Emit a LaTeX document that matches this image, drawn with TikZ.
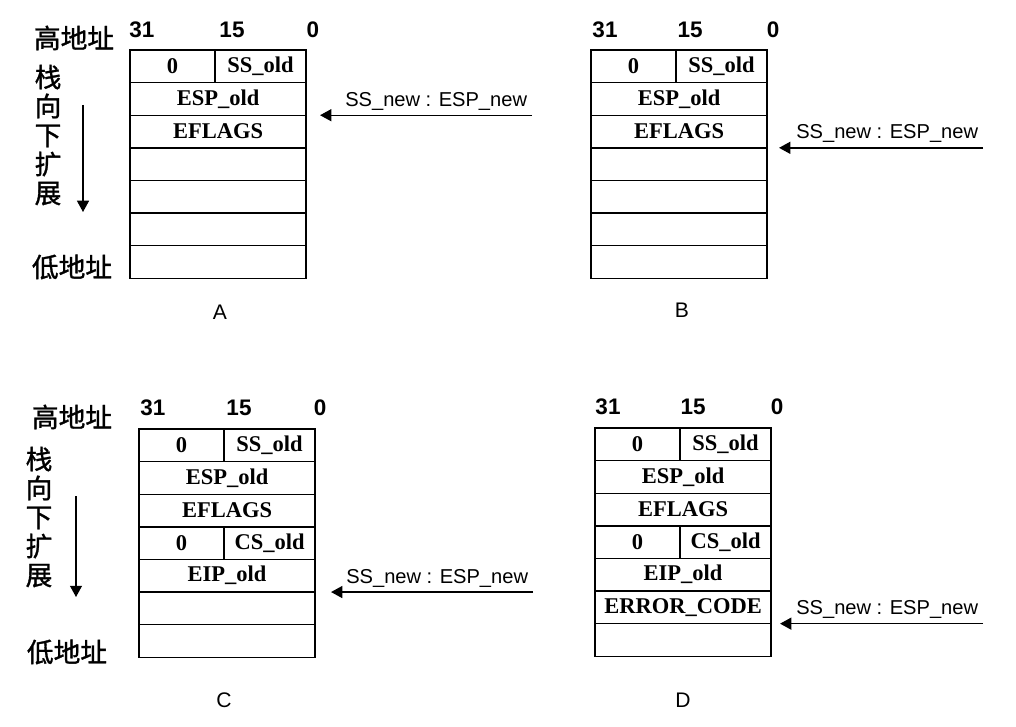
\documentclass[tikz,border=0pt]{standalone}
\usepackage{fontspec}
\setmainfont{Liberation Serif}
\setsansfont{Liberation Sans}
\newfontfamily\cjk[FakeBold=1.2]{Noto Sans CJK SC}
\usetikzlibrary{positioning, calc, arrows.meta}

\tikzset{
  cell/.style={draw, line width=1pt, minimum width=4.4cm, minimum height=0.815cm,
    inner sep=0pt, outer sep=0pt, font=\fontsize{16}{16}\selectfont\bfseries},
  lcell/.style={cell, minimum width=2.125cm},
  rcell/.style={cell, minimum width=2.275cm},
  bitnum/.style={font=\sffamily\bfseries\fontsize{16}{16}\selectfont},
  addr/.style={font=\cjk\fontsize{19}{19}\selectfont},
  growdir/.style={font=\cjk\fontsize{19}{20.6}\selectfont, align=center},
  panel/.style={font=\sffamily\fontsize{15}{15}\selectfont},
  sptext/.style={font=\sffamily\fontsize{14.3}{14.3}\selectfont, anchor=base east},
  sparrow/.style={line width=1pt, -{Triangle[length=8pt, width=8.5pt]}},
}

\begin{document}
\begin{tikzpicture}[x=0.025cm, y=-0.025cm]
    \useasboundingbox (0,0) rectangle (1016,727);

    %% ===== A =====
    \node[lcell, anchor=north west] (a1) at (130,50) {0};
    \node[rcell, right=0pt of a1] (a1r) {SS\_old};
    \node[cell, below=0pt of a1.south west, anchor=north west] (a2) {ESP\_old};
    \node[cell, below=0pt of a2] (a3) {EFLAGS};
    \node[cell, below=0pt of a3] (a4) {};
    \node[cell, below=0pt of a4] (a5) {};
    \node[cell, below=0pt of a5] (a6) {};
    \node[cell, below=0pt of a6] (a7) {};

    \node[bitnum] (a31) at (142,30) {31};
    \node[bitnum] (a15) at (232,30) {15};
    \node[bitnum] (a0)  at (313,30) {0};

    \node[addr] (ahigh) at (74,38) {高地址};
    \node[addr] (alow)  at (72,267) {低地址};
    \node[growdir] (agrow) at (48,135) {栈\\向\\下\\扩\\展};
    \coordinate (adirtop) at (83,105);
    \coordinate (adirbot) at (83,212);
    \draw[sparrow] (adirtop) -- (adirbot);

    \coordinate (atip) at ($(a2.south east)+(14,0)$);
    \coordinate (atail) at ($(atip)+(212,0)$);
    \draw[sparrow] (atail) -- (atip);
    \node[sptext] (asp) at ($(atail)+(0,-9)$) {SS\_new : ESP\_new};

    \node[panel] (aname) at (220,312) {A};

    %% ===== B =====
    \node[lcell, anchor=north west] (b1) at (591,50) {0};
    \node[rcell, right=0pt of b1] (b1r) {SS\_old};
    \node[cell, below=0pt of b1.south west, anchor=north west] (b2) {ESP\_old};
    \node[cell, below=0pt of b2] (b3) {EFLAGS};
    \node[cell, below=0pt of b3] (b4) {};
    \node[cell, below=0pt of b4] (b5) {};
    \node[cell, below=0pt of b5] (b6) {};
    \node[cell, below=0pt of b6] (b7) {};

    \node[bitnum] (b31) at (605,30) {31};
    \node[bitnum] (b15) at (690,30) {15};
    \node[bitnum] (b0)  at (773,30) {0};

    \coordinate (btip) at ($(b3.south east)+(12,0)$);
    \coordinate (btail) at ($(btip)+(204,0)$);
    \draw[sparrow] (btail) -- (btip);
    \node[sptext] (bsp) at ($(btail)+(0,-9)$) {SS\_new : ESP\_new};

    \node[panel] (bname) at (682,310) {B};

    %% ===== C =====
    \node[lcell, anchor=north west] (c1) at (139,429) {0};
    \node[rcell, right=0pt of c1] (c1r) {SS\_old};
    \node[cell, below=0pt of c1.south west, anchor=north west] (c2) {ESP\_old};
    \node[cell, below=0pt of c2] (c3) {EFLAGS};
    \node[lcell, below=0pt of c3.south west, anchor=north west] (c4) {0};
    \node[rcell, right=0pt of c4] (c4r) {CS\_old};
    \node[cell, below=0pt of c4.south west, anchor=north west] (c5) {EIP\_old};
    \node[cell, below=0pt of c5] (c6) {};
    \node[cell, below=0pt of c6] (c7) {};

    \node[bitnum] (c31) at (153,408) {31};
    \node[bitnum] (c15) at (239,408) {15};
    \node[bitnum] (c0)  at (320,408) {0};

    \node[addr] (chigh) at (72,417) {高地址};
    \node[addr] (clow)  at (67,652) {低地址};
    \node[growdir] (cgrow) at (39,517) {栈\\向\\下\\扩\\展};
    \coordinate (cdirtop) at (76,496);
    \coordinate (cdirbot) at (76,597);
    \draw[sparrow] (cdirtop) -- (cdirbot);

    \coordinate (ctip) at ($(c5.south east)+(16,0)$);
    \coordinate (ctail) at ($(ctip)+(202,0)$);
    \draw[sparrow] (ctail) -- (ctip);
    \node[sptext] (csp) at ($(ctail)+(0,-9)$) {SS\_new : ESP\_new};

    \node[panel] (cname) at (224,700) {C};

    %% ===== D =====
    \node[lcell, anchor=north west] (d1) at (595,428) {0};
    \node[rcell, right=0pt of d1] (d1r) {SS\_old};
    \node[cell, below=0pt of d1.south west, anchor=north west] (d2) {ESP\_old};
    \node[cell, below=0pt of d2] (d3) {EFLAGS};
    \node[lcell, below=0pt of d3.south west, anchor=north west] (d4) {0};
    \node[rcell, right=0pt of d4] (d4r) {CS\_old};
    \node[cell, below=0pt of d4.south west, anchor=north west] (d5) {EIP\_old};
    \node[cell, below=0pt of d5] (d6) {ERROR\_CODE};
    \node[cell, below=0pt of d6] (d7) {};

    \node[bitnum] (d31) at (608,407) {31};
    \node[bitnum] (d15) at (693,407) {15};
    \node[bitnum] (d0)  at (777,407) {0};

    \coordinate (dtip) at ($(d6.south east)+(9,0)$);
    \coordinate (dtail) at ($(dtip)+(203,0)$);
    \draw[sparrow] (dtail) -- (dtip);
    \node[sptext] (dsp) at ($(dtail)+(0,-9)$) {SS\_new : ESP\_new};

    \node[panel] (dname) at (683,700) {D};

\end{tikzpicture}
\end{document}
